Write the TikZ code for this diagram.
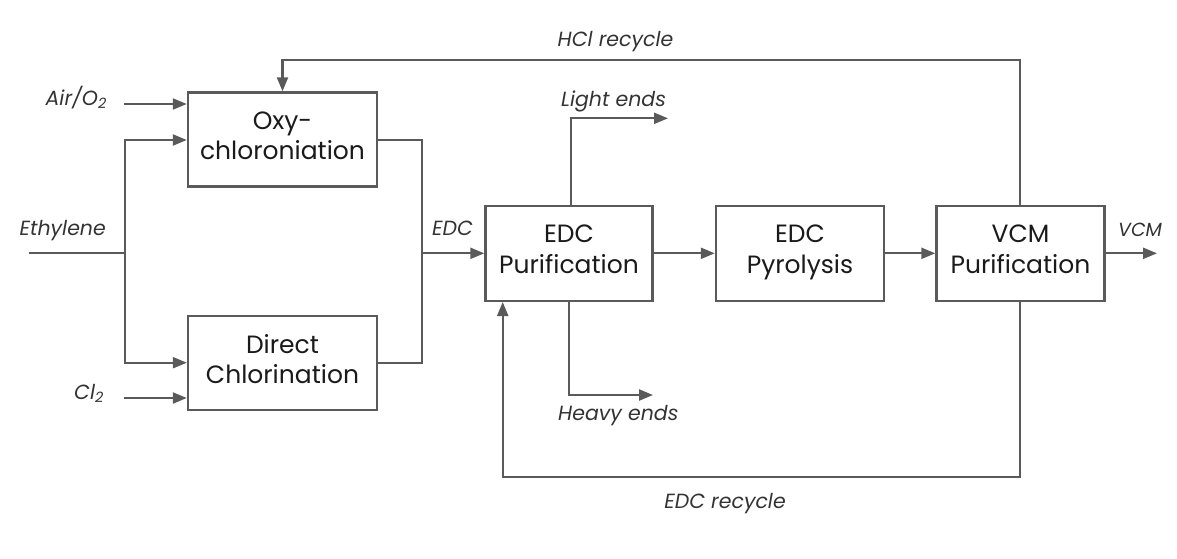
\documentclass[tikz,border=0pt]{standalone}
\usepackage{fontspec}
\setmainfont{Poppins}
\usetikzlibrary{arrows.meta}
\definecolor{linec}{HTML}{5A5A5A}
\definecolor{txtc}{HTML}{1A1A1A}
\definecolor{lblc}{HTML}{333333}
\newcommand{\upfix}{\rule[-8pt]{0pt}{8pt}}
\tikzset{
  box/.style={draw=linec, line width=2.4pt, rectangle, align=center, text=txtc,
     font=\fontsize{25}{30.6}\selectfont, inner sep=0pt},
  conn/.style={draw=linec, line width=2.2pt},
  arr/.style={conn, -{Triangle[length=14pt,width=11pt]}},
  lbl/.style={text=lblc, font=\fontsize{20.5}{24}\selectfont\itshape, inner sep=0pt},
}
\begin{document}
\begin{tikzpicture}[x=1pt,y=-1pt]
\useasboundingbox (0,0) rectangle (1177,558);
% boxes
\node[box, minimum width=189pt, minimum height=94pt] (oxy) at (282.5,139.5) {Oxy-\\chloroniation\upfix};
\node[box, minimum width=189pt, minimum height=94pt] (dir) at (282.5,363) {Direct\\Chlorination\upfix};
\node[box, minimum width=167pt, minimum height=95pt] (pur) at (569,253.3) {EDC\\Purification\upfix};
\node[box, minimum width=168pt, minimum height=95pt] (pyr) at (800,253.2) {EDC\\Pyrolysis\upfix};
\node[box, minimum width=168pt, minimum height=95pt] (vcm) at (1020.5,253.2) {VCM\\Purification\upfix};
% coordinates
\coordinate (airS) at (124,104);
\coordinate (clS) at (124,398);
\coordinate (ethS) at (29,253.3);
\coordinate (ethJ) at (125,253.3);
\coordinate (ethT) at (125,140);
\coordinate (ethB) at (125,362.7);
\coordinate (edcJ) at (422.3,253.3);
\coordinate (oxyO) at (422.3,140);
\coordinate (dirO) at (422.3,362.7);
\coordinate (hclT) at (1020.3,60);
\coordinate (hclL) at (282.5,60);
\coordinate (ltT) at (571,118.3);
\coordinate (ltE) at (668,118.3);
\coordinate (hvB) at (568.7,395);
\coordinate (hvE) at (653,395);
\coordinate (recB) at (1020.3,476.7);
\coordinate (recL) at (502.7,476.7);
\coordinate (vcmE) at (1157,253.3);
% connectors
\draw[arr] (airS) -- (oxy.west |- airS);
\draw[arr] (clS) -- (dir.west |- clS);
\draw[conn] (ethS) -- (ethJ);
\draw[arr] (ethJ) -- (ethT) -- (oxy.west |- ethT);
\draw[arr] (ethJ) -- (ethB) -- (dir.west |- ethB);
\draw[conn] (oxy.east |- oxyO) -- (oxyO) -- (dirO) -- (dir.east |- dirO);
\draw[arr] (edcJ) -- (pur.west |- edcJ);
\draw[arr] (pur.east |- 0,253.3) -- (pyr.west |- 0,253.3);
\draw[arr] (pyr.east |- 0,253.3) -- (vcm.west |- 0,253.3);
\draw[arr] (vcm.east |- vcmE) -- (vcmE);
\draw[arr] (vcm.north -| hclT) -- (hclT) -- (hclL) -- (oxy.north -| hclL);
\draw[arr] (pur.north -| ltT) -- (ltT) -- (ltE);
\draw[arr] (pur.south -| hvB) -- (hvB) -- (hvE);
\draw[arr] (vcm.south -| recB) -- (recB) -- (recL) -- (pur.south -| recL);
% labels
\node[lbl, anchor=base east] (lair) at (107,105) {Air/O\textsubscript{2}};
\node[lbl, anchor=base east] (leth) at (106,235.7) {Ethylene};
\node[lbl, anchor=base east] (lcl) at (104,399) {Cl\textsubscript{2}};
\node[lbl, anchor=base west] (ledc) at (432,235.7) {EDC};
\node[lbl, anchor=base west, font=\fontsize{19}{22}\selectfont\itshape] (lvcm) at (1118,236.7) {VCM};
\node[lbl, anchor=base] (lhcl) at (615.5,46) {HCl recycle};
\node[lbl, anchor=base west] (llt) at (561,106) {Light ends};
\node[lbl, anchor=base west] (lhv) at (558,420) {Heavy ends};
\node[lbl, anchor=base] (lrec) at (725,508) {EDC recycle};
\end{tikzpicture}
\end{document}
